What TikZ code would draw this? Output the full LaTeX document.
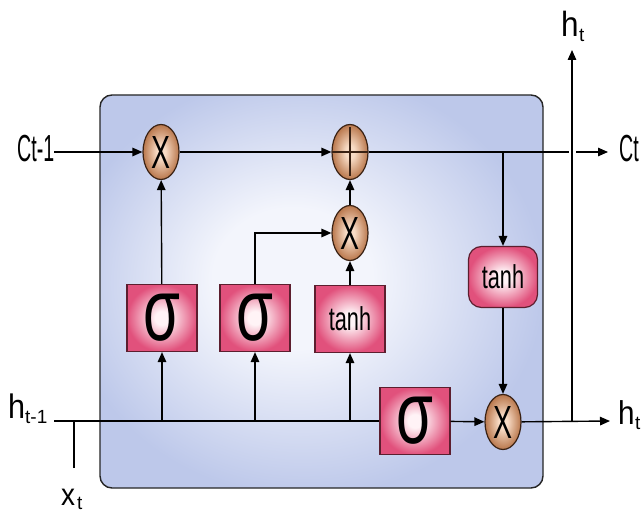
\documentclass[tikz,border=0pt]{standalone}
\usepackage{fontspec}
\setmainfont{Liberation Sans}
\usetikzlibrary{arrows.meta,shapes.geometric}

\definecolor{cellin}{HTML}{F3F5FC}
\definecolor{cellout}{HTML}{BDC8EA}
\definecolor{gatein}{HTML}{FFF3F6}
\definecolor{gateout}{HTML}{E1517C}
\definecolor{gateline}{HTML}{5C1E2E}
\definecolor{opin}{HTML}{F8DCC6}
\definecolor{opout}{HTML}{B9774C}
\definecolor{opline}{HTML}{3A2214}

\pgfdeclareradialshading{cellglow}{\pgfpoint{-4bp}{2bp}}{%
  color(0bp)=(cellin); color(9bp)=(cellin); color(27bp)=(cellout); color(50bp)=(cellout)}
\pgfdeclareradialshading{gateglow}{\pgfpoint{0bp}{0bp}}{%
  color(0bp)=(gatein); color(5bp)=(gatein); color(25bp)=(gateout); color(50bp)=(gateout)}
\pgfdeclareradialshading{opglow}{\pgfpoint{0bp}{0bp}}{%
  color(0bp)=(opin); color(6bp)=(opin); color(25bp)=(opout); color(50bp)=(opout)}

% horizontally squeezed text: #1 x-scale, #2 size, #3 text
\newcommand\sqz[3]{\scalebox{#1}[1]{\fontsize{#2}{#2}\selectfont #3}}

\tikzset{
  wire/.style={line width=1.4bp, draw=black},
  arr/.style={wire, -{Triangle[length=10bp,width=8.5bp]}},
  gatebox/.style={draw=gateline, line width=1.2bp, shading=gateglow,
    minimum width=70bp, minimum height=67bp, inner sep=0pt},
  tanhbox/.style={gatebox, rounded corners=13bp, minimum width=69bp, minimum height=61bp},
  opnode/.style={ellipse, draw=opline, line width=1.2bp, shading=opglow,
    minimum width=36bp, minimum height=55bp, inner sep=0pt},
  plusop/.style={opnode, path picture={
    \draw[line width=1.4bp] (path picture bounding box.north) ++(0,-3bp) -- ([yshift=3bp]path picture bounding box.south);
    \draw[line width=1.4bp] (path picture bounding box.west) -- (path picture bounding box.east);}},
  lbl/.style={inner sep=0pt, anchor=base west},
}

\newcommand\sigmaglyph{\sqz{0.68}{88bp}{σ}}
\newcommand\tanhglyph{\sqz{0.66}{33bp}{tanh}}
\newcommand\timesglyph{\resizebox{19bp}{32bp}{X}}

\begin{document}
\begin{tikzpicture}[x=1bp,y=-1bp]
  \useasboundingbox (0,0) rectangle (641,512);
  \fill[white] (0,0) rectangle (641,512);

  % the cell body
  \draw[line width=1.4bp, draw=black!85, rounded corners=12bp, shading=cellglow]
    (100,95) rectangle (543,488);

  % operators
  \node[opnode] (m1) at (161,152) {\timesglyph};
  \node[plusop] (pl) at (350,152) {};
  \node[opnode] (m2) at (350,233) {\timesglyph};
  \node[opnode] (m3) at (503,422) {\timesglyph};

  % gates
  \node[gatebox] (s1) at (162,318) {\sigmaglyph};
  \node[gatebox] (s2) at (255,318) {\sigmaglyph};
  \node[gatebox] (t1) at (350,319) {\tanhglyph};
  \node[gatebox] (s3) at (415,421) {\sigmaglyph};
  \node[tanhbox] (t2) at (503,277) {\tanhglyph};

  % labels
  \node[lbl] (cprev) at (17,162) {\sqz{0.52}{37.7bp}{Ct-1}};
  \node[lbl] (cnext) at (619,162) {\sqz{0.52}{37.7bp}{Ct}};
  \node[lbl] (hprev) at (8,418) {\sqz{0.9}{34bp}{h}};
  \node[lbl] (hprevs) at (25,423) {\fontsize{19bp}{19bp}\selectfont t-1};
  \node[lbl] (xin) at (61,505) {\sqz{0.9}{31bp}{x}};
  \node[lbl] (xins) at (77,509) {\fontsize{19bp}{19bp}\selectfont t};
  \node[lbl] (hout) at (618,424) {\sqz{0.9}{33bp}{h}};
  \node[lbl] (houts) at (635,429) {\fontsize{19bp}{19bp}\selectfont t};
  \node[lbl] (htop) at (561,37) {\sqz{0.9}{35bp}{h}};
  \node[lbl] (htops) at (579,42) {\fontsize{19bp}{19bp}\selectfont t};

  % free ends of the wires
  \coordinate (cin) at (54,152);
  \coordinate (cend) at (608,152);
  \coordinate (hin) at (54,421);
  \coordinate (hend) at (610,421);
  \coordinate (xend) at (74,468);
  \coordinate (hup) at (572,50);

  % cell state path
  \draw[arr] (cin) -- (m1);
  \draw[arr] (m1) -- (pl);
  \draw[arr] (pl) -- (cend);
  \draw[arr] (t2 |- pl) -- (t2);

  % hidden state / input bus
  \draw[wire] (hin) -- (s3);
  \draw[wire] (xend) -- (xend |- hin);
  \draw[arr] (s1 |- hin) -- (s1);
  \draw[arr] (s2 |- hin) -- (s2);
  \draw[arr] (t1 |- hin) -- (t1);

  % gate outputs
  \draw[arr] (s1) -- (m1);
  \draw[arr] (s2) |- (m2);
  \draw[arr] (t1) -- (m2);
  \draw[arr] (m2) -- (pl);
  \draw[arr] (s3) -- (m3);
  \draw[arr] (t2) -- (m3);

  % output
  \draw[arr] (m3) -- (hend);
  \draw[white, line width=7bp] (hup |- pl) ++(0,-6) -- ++(0,12);
  \draw[arr] (hup |- hend) -- (hup);
\end{tikzpicture}
\end{document}
